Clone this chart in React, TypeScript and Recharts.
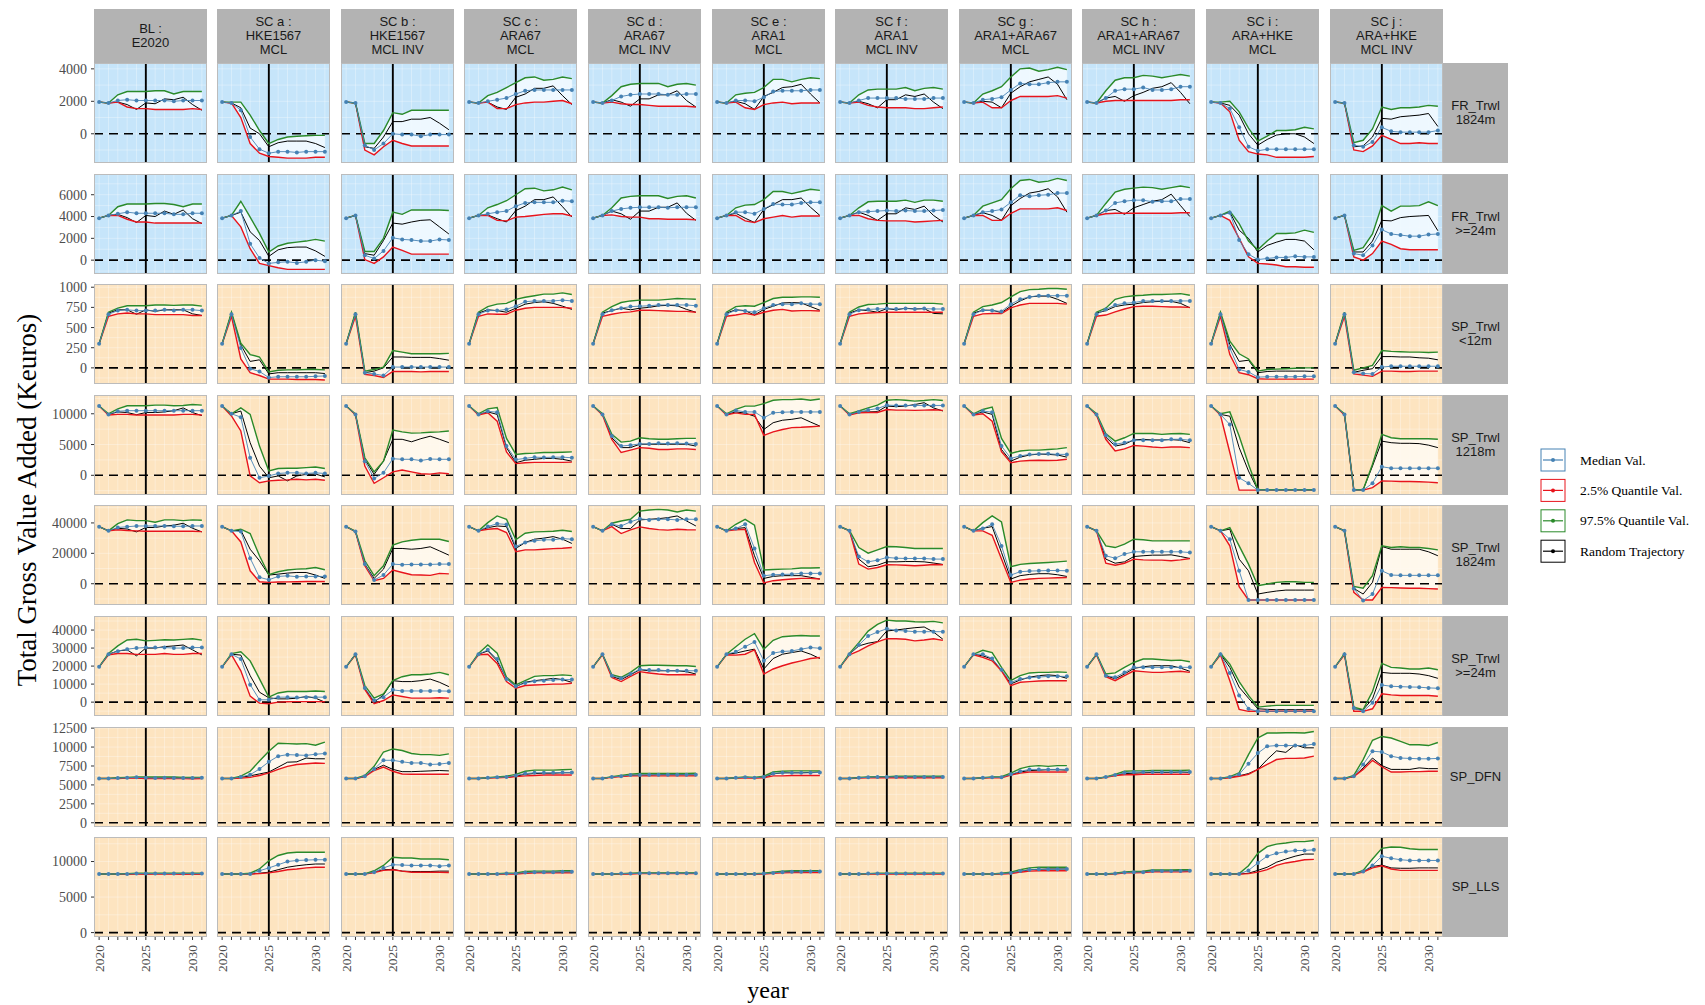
import React from "react";
import { Area, CartesianGrid, ComposedChart, Line, ReferenceLine, XAxis, YAxis } from "recharts";

const years = [2020, 2021, 2022, 2023, 2024, 2025, 2026, 2027, 2028, 2029, 2030, 2031];

const scenarios = [
  "BL :\nE2020",
  "SC a :\nHKE1567\nMCL",
  "SC b :\nHKE1567\nMCL INV",
  "SC c :\nARA67\nMCL",
  "SC d :\nARA67\nMCL INV",
  "SC e :\nARA1\nMCL",
  "SC f :\nARA1\nMCL INV",
  "SC g :\nARA1+ARA67\nMCL",
  "SC h :\nARA1+ARA67\nMCL INV",
  "SC i :\nARA+HKE\nMCL",
  "SC j :\nARA+HKE\nMCL INV",
];

const fleets = [
  "FR_Trwl\n1824m",
  "FR_Trwl\n>=24m",
  "SP_Trwl\n<12m",
  "SP_Trwl\n1218m",
  "SP_Trwl\n1824m",
  "SP_Trwl\n>=24m",
  "SP_DFN",
  "SP_LLS",
];

const yTicks = [
  [0, 2000, 4000],
  [0, 2000, 4000, 6000],
  [0, 250, 500, 750, 1000],
  [0, 5000, 10000],
  [0, 20000, 40000],
  [0, 10000, 20000, 30000, 40000],
  [0, 2500, 5000, 7500, 10000, 12500],
  [0, 5000, 10000],
];

const yDomains = [
  [-1800, 4360],
  [-1270, 7900],
  [-200, 1040],
  [-3200, 13050],
  [-14000, 51800],
  [-7700, 47800],
  [-560, 12650],
  [-620, 13450],
];

// ---- FR_Trwl 1824m ----
const fr1824Med = [
  [1950,1900,2050,2100,2050,2050,2050,2050,2000,2050,2050,2050],
  [1950,1900,1450,-200,-950,-1200,-1100,-1100,-1150,-1100,-1100,-1100],
  [1950,1900,-700,-1000,-600,0,-50,-50,-150,-50,-50,-50],
  [1950,1900,2000,2100,2200,2450,2650,2700,2700,2700,2700,2700],
  [1950,1900,2050,2300,2400,2450,2450,2450,2400,2400,2450,2450],
  [1950,1900,2050,2050,2000,2250,2600,2650,2650,2650,2700,2700],
  [1950,1900,2050,2200,2200,2200,2200,2150,2150,2150,2200,2200],
  [1950,1900,2100,2150,2250,2700,3100,3050,3050,3150,3200,3200],
  [1950,1900,2200,2650,2750,2750,2850,2700,2700,2750,2900,2900],
  [1950,1900,1550,400,-800,-1050,-950,-950,-950,-950,-950,-950],
  [1950,1900,-700,-800,-500,400,150,100,100,100,100,200],
];
const fr1824Lo = [
  [1950,1900,1950,1650,1550,1550,1500,1500,1500,1500,1550,1500],
  [1950,1900,1000,-600,-1200,-1400,-1450,-1500,-1500,-1500,-1450,-1450],
  [1950,1900,-1000,-1300,-800,-400,-600,-750,-750,-750,-750,-750],
  [1950,1900,1950,1550,1550,1800,1900,1950,1950,2000,2050,1850],
  [1950,1900,1950,1850,1800,1800,1750,1700,1700,1700,1700,1650],
  [1950,1900,1950,1600,1500,1800,1900,1950,1850,1900,1900,1900],
  [1950,1900,1950,1750,1650,1600,1600,1600,1550,1550,1600,1650],
  [1950,1900,1950,1600,1600,2050,2300,2300,2300,2300,2350,2200],
  [1950,1900,2000,2050,2050,2050,2050,2050,2050,2050,2100,2100],
  [1950,1900,1350,-400,-1100,-1250,-1300,-1450,-1450,-1450,-1450,-1400],
  [1950,1900,-1000,-1100,-750,-100,-350,-600,-600,-550,-600,-600],
];
const fr1824Hi = [
  [1950,1900,2400,2600,2600,2600,2650,2650,2450,2600,2600,2600],
  [1950,1950,1950,1150,200,-600,-350,-200,-150,-120,-100,-100],
  [1950,1900,-600,-600,200,1300,1200,1450,1450,1450,1450,1450],
  [1950,1900,2350,2550,2850,3150,3450,3500,3300,3350,3500,3400],
  [1950,1900,2350,2900,3050,3100,3100,3100,2900,3050,3100,3000],
  [1950,1900,2400,2500,2550,2850,3350,3350,3200,3350,3450,3400],
  [1950,1900,2400,2700,2750,2750,2750,2850,2650,2800,2850,2750],
  [1950,1900,2450,2650,2900,3500,4000,4050,3850,3950,4100,3950],
  [1950,1900,2650,3300,3450,3450,3600,3550,3450,3550,3650,3550],
  [1950,1950,2000,1350,350,-450,-150,200,200,250,400,300],
  [1950,1900,-550,-400,300,1650,1500,1600,1600,1650,1750,1700],
];
const fr1824Rnd = [
  [1950,1900,1950,1800,1500,1900,1850,2150,2100,2250,1800,1450],
  [1950,1900,1600,350,0,-800,-550,-450,-450,-450,-600,-850],
  [1950,1900,-800,-900,-200,750,750,900,900,1000,650,250],
  [1950,1900,1950,1650,1500,2250,2450,2800,2800,2950,2350,1800],
  [1950,1900,2100,1950,1700,2150,2150,2400,2400,2650,2050,1650],
  [1950,1900,2000,1850,1500,2300,2550,2850,2900,3050,2450,1900],
  [1950,1900,2000,1850,1600,2100,2100,2400,2300,2450,1950,1550],
  [1950,1900,2000,1950,1600,2500,2900,3200,3350,3500,3050,2100],
  [1950,1900,2200,2300,2000,2350,2550,2800,2900,3150,2550,1850],
  [1950,1900,1750,1150,0,-700,-350,-80,0,0,-200,-600],
  [1950,1900,-800,-750,-200,950,900,1050,1100,1150,1250,450],
];

// ---- FR_Trwl >=24m ----
const fr24Med = [
  [3850,4100,4250,4400,4300,4300,4300,4300,4200,4200,4300,4300],
  [3850,4100,4500,1500,200,-300,-200,-150,-250,-150,0,-100],
  [3850,4100,450,150,850,2050,1900,1850,1750,1750,1900,1850],
  [3850,4100,4250,4400,4500,4950,5250,5300,5300,5300,5450,5400],
  [3850,4100,4500,4700,4800,4850,4850,4850,4800,4850,4850,4850],
  [3850,4100,4400,4400,4250,4700,5150,5100,5100,5250,5300,5300],
  [3850,4100,4400,4450,4500,4550,4500,4550,4500,4500,4550,4600],
  [3850,4100,4400,4500,4650,5300,5950,5850,5950,6000,6150,6150],
  [3850,4100,4550,5250,5400,5500,5500,5350,5400,5400,5600,5600],
  [3850,4100,4350,1850,550,50,150,250,250,350,300,300],
  [3850,4100,600,450,1350,2800,2400,2300,2200,2200,2350,2400],
];
const fr24Lo = [
  [3850,4100,4100,3750,3500,3500,3400,3400,3400,3400,3400,3400],
  [3850,4100,3050,1050,-300,-500,-700,-850,-850,-850,-850,-850],
  [3850,4100,50,-300,300,1200,900,550,550,550,550,550],
  [3850,4100,4100,3650,3600,3950,4000,4100,4200,4250,4250,4050],
  [3850,4100,4150,4000,3950,3950,3800,3800,3750,3750,3750,3700],
  [3850,4100,4100,3600,3450,3800,3950,4100,3950,4050,4050,4050],
  [3850,4100,4100,3800,3650,3600,3600,3600,3500,3550,3600,3650],
  [3850,4100,4100,3650,3650,4300,4700,4700,4700,4700,4800,4550],
  [3850,4100,4250,4300,4300,4300,4300,4300,4300,4300,4350,4350],
  [3850,4100,3650,2000,300,-300,-350,-450,-600,-600,-650,-650],
  [3850,4100,300,0,600,1750,1450,1050,950,950,950,950],
];
const fr24Hi = [
  [3850,4100,4900,5150,5150,5150,5200,5200,5100,4900,5150,5150],
  [3850,4100,5400,3950,2450,750,1300,1550,1650,1750,1900,1750],
  [3850,4100,800,800,2000,4400,4200,4600,4600,4600,4600,4550],
  [3850,4100,4800,5100,5450,6000,6550,6600,6350,6450,6700,6450],
  [3850,4100,4800,5700,5850,5900,5900,5900,5650,5850,5900,5700],
  [3850,4100,4800,5050,5100,5550,6300,6300,6100,6300,6500,6400],
  [3850,4100,4800,5350,5400,5400,5400,5500,5300,5500,5500,5400],
  [3850,4100,4950,5250,5550,6550,7300,7400,7150,7250,7500,7300],
  [3850,4100,5200,6250,6500,6600,6700,6650,6500,6650,6800,6650],
  [3850,4100,4500,3350,1750,950,1750,2450,2450,2500,2750,2550],
  [3850,4100,900,1150,2400,5000,4500,4950,4950,5000,5350,5000],
];
const fr24Rnd = [
  [3850,4100,4200,3900,3450,4100,4000,4500,4200,4600,3800,3350],
  [3850,4100,4400,2600,1800,350,950,1150,1200,1200,850,350],
  [3850,4100,600,450,1800,3400,3300,3500,3650,3700,3050,2400],
  [3850,4100,4150,3800,3500,4550,4950,5550,5550,5800,4900,3950],
  [3850,4100,4500,4250,3750,4500,4500,4850,4850,5250,4300,3650],
  [3850,4100,4300,3850,3450,4650,5100,5550,5550,5700,4850,4100],
  [3850,4100,4400,4100,3650,4250,4250,4800,4650,4950,4100,3500],
  [3850,4100,4350,4100,3650,5000,5650,6150,6300,6550,5800,4400],
  [3850,4100,4550,4650,4200,4800,5100,5400,5550,6050,5000,4000],
  [3850,4100,4400,2750,2000,750,1350,1650,1900,1900,1750,950],
  [3850,4100,750,750,1750,3650,3600,3900,4000,4050,4100,2700],
];

// ---- SP_Trwl <12m ----
const sp12Med = [
  [300,665,710,720,710,710,710,720,710,720,720,710],
  [300,665,245,-10,-45,-120,-110,-110,-110,-110,-105,-100],
  [300,665,-60,-75,-95,10,10,10,10,10,10,10],
  [300,665,710,710,725,765,820,830,830,830,840,830],
  [300,665,715,740,760,765,770,780,780,780,780,770],
  [300,665,715,705,690,740,780,790,790,800,790,790],
  [300,665,715,725,730,735,730,735,730,735,730,730],
  [300,665,715,710,700,790,850,880,895,895,895,895],
  [300,665,725,780,800,810,830,830,830,830,830,830],
  [300,665,245,-20,-50,-115,-110,-110,-110,-110,-105,-105],
  [300,665,-55,-70,-75,10,20,20,20,20,20,20],
];
const sp12Lo = [
  [300,640,670,680,670,670,660,660,660,660,650,650],
  [300,640,110,-60,-95,-140,-140,-140,-145,-145,-145,-150],
  [300,640,-80,-95,-120,-45,-45,-45,-50,-45,-45,-45],
  [300,640,670,665,665,715,740,750,750,750,750,740],
  [300,640,665,685,695,715,715,710,705,700,700,690],
  [300,640,655,675,655,690,715,725,705,710,710,705],
  [300,640,670,680,685,690,690,690,690,690,690,690],
  [300,640,670,675,675,745,780,800,800,800,800,790],
  [300,640,655,695,730,760,765,765,760,755,755,750],
  [300,640,165,-60,-85,-135,-140,-140,-140,-140,-140,-140],
  [300,640,-75,-90,-105,-40,-40,-45,-45,-40,-40,-40],
];
const sp12Hi = [
  [300,690,740,770,770,770,780,780,775,780,780,765],
  [300,690,305,165,135,-50,-30,-25,-25,-20,-20,-25],
  [300,690,-40,-20,10,215,195,175,175,175,175,180],
  [300,690,760,790,800,850,875,895,915,915,930,910],
  [300,690,760,810,830,840,840,840,850,860,855,850],
  [300,690,760,770,765,810,860,875,875,880,880,875],
  [300,690,755,785,790,800,800,800,800,800,800,790],
  [300,690,760,780,810,880,945,970,975,985,985,975],
  [300,690,740,850,880,895,900,910,910,915,920,900],
  [300,690,330,175,110,-40,-20,-15,-10,-5,0,0],
  [300,690,-30,0,30,215,205,200,195,195,190,195],
];
const sp12Rnd = [
  [300,680,720,720,665,720,700,720,720,720,670,650],
  [300,680,285,80,100,-75,-60,-60,-60,-60,-60,-70],
  [300,680,-60,-40,0,135,135,130,130,130,115,95],
  [300,680,720,710,690,740,790,810,820,800,765,725],
  [300,680,710,740,720,740,750,770,775,770,725,690],
  [300,680,720,710,655,725,765,805,810,805,760,715],
  [300,680,720,710,690,735,720,740,730,735,675,670],
  [300,680,715,715,685,765,830,880,890,890,850,800],
  [300,680,710,760,780,790,810,820,825,825,800,745],
  [300,680,290,80,95,-60,-45,-40,-40,-40,-40,-45],
  [300,680,-55,-30,-10,140,140,135,135,125,120,100],
];

// ---- SP_Trwl 1218m ----
const sp1218Med = [
  [11250,9900,10400,10500,10500,10500,10500,10500,10500,10500,10500,10500],
  [11250,10000,9450,2850,-400,-100,300,400,400,300,400,300],
  [11250,9900,2300,-500,400,2700,2600,2600,2400,2650,2600,2600],
  [11250,9900,10400,10250,4750,2550,2750,2950,2900,2950,2950,2850],
  [11250,9900,6400,4750,4900,5100,5100,5200,5150,5200,5150,5100],
  [11250,9900,10550,10300,10300,9350,10150,10250,10300,10300,10300,10300],
  [11250,9900,10300,10600,10850,11400,11350,11350,11350,11350,11350,11350],
  [11250,9900,10450,10250,4750,2750,3150,3400,3450,3500,3400,3400],
  [11250,9900,6500,5050,5300,5700,5700,5700,5700,5850,5850,5700],
  [11250,9900,8250,-400,-1300,-2400,-2400,-2400,-2400,-2400,-2400,-2400],
  [11250,9900,-2400,-2400,-1300,1400,1150,1150,1150,1150,1150,1150],
];
const sp1218Lo = [
  [11250,9800,9900,9900,9800,9800,9800,9800,9800,9900,9900,9800],
  [11250,9650,7200,-100,-1200,-900,-800,-750,-650,-750,-650,-800],
  [11250,9850,1500,-1300,-400,550,850,550,250,200,400,250],
  [11250,9800,10150,8800,3800,1900,2050,2100,2100,2100,2100,2150],
  [11250,9800,5850,3700,4100,4500,4400,4200,4200,4300,4300,4200],
  [11250,9800,10150,9900,9900,6500,7050,7450,7750,7800,7900,8000],
  [11250,9800,10150,10200,10200,10700,10600,10600,10550,10600,10650,10550],
  [11250,9800,10000,8800,3850,2050,2300,2400,2450,2400,2450,2600],
  [11250,9800,5850,3950,4300,4850,4750,4600,4500,4600,4600,4500],
  [11250,9800,3700,-2400,-2400,-2400,-2400,-2400,-2400,-2400,-2400,-2400],
  [11250,9800,-2400,-2400,-2000,-900,-950,-1000,-1000,-1050,-1100,-1200],
];
const sp1218Hi = [
  [11250,10000,10800,11300,11300,11300,11400,11400,11300,11350,11500,11400],
  [11250,10000,10950,9900,4750,700,1100,1150,1150,1250,1350,1100],
  [11250,9950,2850,550,2300,7350,7050,6850,6900,7000,7050,7200],
  [11250,10000,10800,11000,6000,3400,3550,3600,3700,3700,3750,3800],
  [11250,10000,6650,5400,5550,6100,5950,5850,5850,5950,6000,6000],
  [11250,10000,10700,11250,11250,11650,12200,12300,12300,12400,12200,12400],
  [11250,10000,10450,10950,11400,12200,12300,12200,12050,12150,12300,12150],
  [11250,10000,10700,11100,6000,3550,3950,4100,4100,4200,4300,4500],
  [11250,10000,6750,5550,6100,6800,6800,6800,6650,6750,6800,6650],
  [11250,10000,10300,6400,1800,-2350,-2350,-2350,-2350,-2350,-2350,-2350],
  [11250,10000,-2350,-2350,1800,6650,6100,5950,5950,5950,5950,5850],
];
const sp1218Rnd = [
  [11250,9900,10300,10200,9850,10200,10200,10300,10500,10950,10200,9700],
  [11250,10000,10450,5300,1500,-400,-100,-900,-100,150,200,-250],
  [11250,9900,2600,150,2300,5850,5850,5450,5950,6350,5850,5300],
  [11250,9900,10300,9900,4500,2050,2450,2600,2750,2750,2600,2300],
  [11250,9900,6100,4500,4500,5050,5050,5050,5050,5050,5050,4750],
  [11250,9900,10300,10100,9600,7450,8550,8950,9100,9350,8650,8000],
  [11250,9900,10300,10300,10350,11250,11150,11250,11500,11800,10950,10450],
  [11250,9900,10300,9900,4200,2300,2950,3300,3450,3400,3300,2950],
  [11250,9900,6200,4750,5050,5750,5850,5750,5750,5800,5700,5300],
  [11250,9900,9600,4500,700,-2380,-2380,-2380,-2380,-2380,-2380,-2380],
  [11250,9900,-2350,-2350,1500,5550,5300,5200,5200,5150,4900,4500],
];

// ---- SP_Trwl 1824m ----
const sp1824Med = [
  [37500,34800,37000,37500,38000,38000,38000,38000,37800,37800,38000,38000],
  [37500,34800,34300,16800,4200,2600,4800,5200,4600,4800,4800,4800],
  [37500,34300,12900,2400,5700,12900,12500,12700,12700,12700,12900,12900],
  [37500,34800,37600,39500,39000,24500,27100,28200,28900,28900,29700,29300],
  [37500,34800,39100,38000,40700,42800,42000,42400,42400,42000,42400,42400],
  [37500,34800,36300,39100,23200,5250,5900,6100,6300,6800,6800,6800],
  [37500,34800,17900,14400,15500,17300,16800,16600,16600,16600,16200,16200],
  [37500,34800,36300,39100,24900,5700,7900,8300,8500,8700,8700,8500],
  [37500,34800,18400,16800,19500,21000,21000,21000,21000,21000,21000,20500],
  [37500,34800,29300,8500,-10700,-10700,-10700,-10700,-10700,-10700,-10700,-10700],
  [37500,34800,-3100,-11100,-6800,8500,5700,5500,5500,5500,5500,5500],
];
const sp1824Lo = [
  [37500,34800,35500,35000,34800,34500,34500,34500,34500,34500,34500,34300],
  [37500,34800,27500,8500,1300,900,1100,1200,1300,1500,1500,1500],
  [37500,34300,11800,2000,3500,9000,7400,5900,5700,5500,6800,6500],
  [37500,34800,35800,36300,33700,21000,22300,22300,22700,23100,23300,23800],
  [37500,34800,37600,33000,35400,37400,36300,35600,35300,35800,35500,35400],
  [37500,34800,35400,35800,14000,450,2000,2600,3100,3500,3500,3100],
  [37500,34800,12900,9600,10700,12500,12400,12200,11800,12200,12600,12500],
  [37500,34800,34800,31900,16200,850,2400,3100,3500,3700,3900,4100],
  [37500,34800,13500,12200,13500,16200,15700,15500,15500,15100,15700,16600],
  [37500,34800,24900,-2000,-10700,-10700,-10700,-10700,-10700,-10700,-10700,-10700],
  [37500,34800,-5700,-10700,-10700,-2400,-2600,-2800,-3000,-3000,-3200,-3500],
];
const sp1824Hi = [
  [37500,34800,39500,42000,41500,41500,40500,42000,42000,41500,42000,41800],
  [37500,34800,35900,33000,18400,5900,7900,9000,9600,9900,10700,9200],
  [37500,34500,15100,5300,11800,25400,27500,28600,29300,29300,29300,27800],
  [37500,34800,40200,44600,42400,28900,33200,34100,34300,34500,35200,34400],
  [37500,34800,39800,41300,42400,47800,48500,48900,48500,47200,48500,47800],
  [37500,34800,39100,42400,38500,9000,9400,9600,9800,10300,10300,10500],
  [37500,35000,23800,20100,22300,24500,24300,23800,23200,23200,23200,23200],
  [37500,34800,40200,44600,40600,11200,12700,13300,13600,14000,14400,14900],
  [37500,34800,24900,23800,26000,29300,28900,28200,28200,28200,28200,28200],
  [37500,34800,36900,24900,12900,-1300,-200,900,1300,1300,900,900],
  [37500,34800,-1750,-3000,5250,24900,23800,24300,23800,23800,23200,22300],
];
const sp1824Rnd = [
  [37500,34800,36500,36000,34100,37000,37000,38000,38500,39800,36500,34100],
  [37500,34800,35200,22700,15100,5700,6300,7000,7400,7400,5700,3500],
  [37500,34300,13000,3500,9600,23200,23200,22700,23200,24300,21600,18800],
  [37500,34800,36900,38000,37600,23200,27100,29300,30000,31000,29300,26500],
  [37500,34800,39100,36300,36300,42000,42400,42800,43500,44600,41300,38000],
  [37500,34800,36300,36900,18400,3500,4800,5300,5300,5300,4200,3100],
  [37500,34800,16200,11200,12200,14400,14400,14600,14600,14400,13600,12700],
  [37500,34800,36500,37600,20600,3100,5300,6100,6600,6600,5900,4800],
  [37500,34800,16200,13500,14400,17900,18400,18800,18800,19000,17900,16600],
  [37500,34800,35900,16200,8500,-6800,-5700,-4800,-4200,-4200,-4200,-4200],
  [37500,34800,-3100,-6800,900,24500,22700,22700,22700,22700,21000,18400],
];

// ---- SP_Trwl >=24m ----
const sp24Med = [
  [19600,26600,28300,29400,30000,30300,30300,30300,30000,30000,30300,30300],
  [19600,26600,23900,9700,1300,1300,2750,2750,2600,2750,2750,2750],
  [19600,26600,7900,900,2750,6800,6200,6200,6200,6200,6200,6100],
  [19600,26600,29000,23900,12800,8800,10600,11600,11900,12300,12500,12500],
  [19600,26600,14700,13200,15600,18300,17800,17800,17400,17400,17400,17400],
  [19600,26600,27900,30800,33400,22900,27200,28100,28400,29400,30300,29900],
  [19600,26600,31700,36700,38900,40700,39800,39500,39100,39100,39100,39100],
  [19600,26600,26600,24200,18000,11000,12800,13600,13900,14300,14300,14300],
  [19600,26600,14700,13800,16500,19300,19300,19300,19300,19300,19300,19300],
  [19600,26600,16100,3700,-3700,-5100,-5100,-5100,-5100,-5100,-5100,-5100],
  [19600,26600,-3300,-5100,-400,9500,8800,8600,8400,8300,7900,7700],
];
const sp24Lo = [
  [19600,26300,27000,27000,26500,26500,26500,27000,26500,26500,27000,27000],
  [19600,26300,17400,3300,-550,-900,0,200,300,300,300,200],
  [19600,26300,7000,-900,900,4000,3100,2200,2200,2200,2400,2200],
  [19600,26300,26600,21500,11400,7700,9200,9500,9700,10000,10000,10500],
  [19600,26300,13700,11400,14300,16900,16200,15600,15200,15200,15300,15100],
  [19600,26300,26100,26600,29000,15600,18400,20200,21700,22900,24200,24800],
  [19600,26300,28400,31200,33400,35200,35200,34900,34000,34500,35200,34300],
  [19600,26300,24800,22900,17400,9200,11000,11400,11700,11900,11900,11900],
  [19600,26300,14100,11900,14700,17400,16900,16500,16500,16900,17100,16500],
  [19600,26300,11900,-4000,-5100,-5100,-5100,-5100,-5100,-5100,-5100,-5100],
  [19600,26300,-5100,-5100,-3700,4600,4000,3700,3700,3700,3700,3300],
];
const sp24Hi = [
  [19600,27000,31200,34500,34900,34000,34300,34600,34500,34800,35200,34400],
  [19600,26900,27900,22900,12900,2750,5100,5900,5900,5900,6200,5900],
  [19600,26600,9200,2200,4600,11900,14100,15200,15200,15600,16500,15200],
  [19600,27000,31700,27200,13800,9500,11900,14300,14700,14700,15100,14700],
  [19600,26600,15200,13800,16500,20200,20500,20500,20300,20200,20200,19800],
  [19600,26600,30700,34900,38000,29400,34300,36300,36700,37000,36700,36700],
  [19600,27000,33000,39400,43100,45500,45000,45000,44600,44500,44800,44000],
  [19600,26600,28800,27500,19300,11900,14700,16200,16500,16500,16800,16500],
  [19600,26600,15600,16200,19300,22000,23900,23900,23500,23100,23300,22400],
  [19600,27000,21100,11400,3700,-2750,-2200,-1800,-1800,-1800,-1800,-1800],
  [19600,27000,-2750,-4200,5900,21500,19300,18900,18400,18400,18900,18000],
];
const sp24Rnd = [
  [19600,26600,28400,29000,25700,30000,30000,30800,31200,31700,29000,26200],
  [19600,26600,26100,14700,5500,2400,1800,1800,2200,3100,2200,0],
  [19600,26600,7700,0,4000,11900,11400,11400,11900,12800,11000,8600],
  [19600,26600,28400,22900,13200,8600,11000,11900,12500,13200,12500,11000],
  [19600,26600,14300,12500,15200,18000,17400,17400,17400,17400,16900,15600],
  [19600,26600,27200,28400,29400,18400,24200,26600,27500,28400,26600,24200],
  [19600,26600,31200,32700,33600,39500,40000,40700,41300,41700,38900,34900],
  [19600,26600,25700,23900,17400,10100,12300,13800,14700,15100,14700,13200],
  [19600,26600,14700,12900,15600,18700,19600,20200,20200,20200,18900,17100],
  [19600,26600,19300,8300,2200,-3700,-4000,-4200,-4200,-4200,-4200,-4200],
  [19600,26600,-3700,-4200,1800,16500,16000,16000,16000,15600,14700,13200],
];

// ---- SP_DFN ----
const dfnMed = [
  [5850,5850,5900,5950,6000,5950,5900,5950,5900,5900,5900,5950],
  [5850,5850,6050,6350,7100,8050,8800,9000,8950,8900,9050,9150],
  [5850,5850,6150,7100,8250,8250,8050,7900,7900,7700,7750,7900],
  [5850,5850,5950,6000,6050,6250,6500,6600,6600,6600,6650,6650],
  [5850,5850,6050,6150,6300,6300,6350,6350,6350,6350,6350,6350],
  [5850,5850,5950,6000,5950,6050,6500,6600,6600,6600,6600,6650],
  [5850,5850,5950,6000,6050,6050,6050,6050,6050,6050,6050,6050],
  [5850,5850,5950,6000,6000,6400,6800,7050,7050,7050,7050,7050],
  [5850,5850,6050,6300,6600,6700,6700,6700,6700,6700,6700,6700],
  [5850,5850,6050,6400,7800,9200,10100,10200,10200,10200,10200,10400],
  [5850,5850,6150,7700,9450,9350,8800,8550,8500,8450,8450,8500],
];
const dfnLo = [
  [5850,5850,5850,5900,5900,5850,5850,5850,5850,5850,5800,5850],
  [5850,5850,5900,6000,6250,6600,7050,7450,7700,7800,7900,7850],
  [5850,5850,6100,6900,7350,6800,6450,6400,6400,6400,6400,6400],
  [5850,5850,5900,5950,6000,6100,6200,6250,6300,6300,6300,6300],
  [5850,5850,6000,6100,6200,6200,6200,6200,6200,6200,6200,6200],
  [5850,5850,5900,5950,5900,5950,6200,6200,6250,6250,6250,6250],
  [5850,5850,5900,5950,5950,5950,5950,5950,5950,5950,5950,5950],
  [5850,5850,5900,5950,5950,6300,6550,6700,6700,6700,6700,6700],
  [5850,5850,6000,6250,6350,6350,6400,6400,6400,6400,6400,6400],
  [5850,5850,5950,6150,6400,7050,7700,8350,8500,8500,8550,8800],
  [5850,5850,6100,7050,8250,7400,6700,6700,6750,6750,6800,6800],
];
const dfnHi = [
  [5850,5850,5950,6000,6050,6050,6050,6050,6050,6000,6000,6000],
  [5850,5850,6150,6800,8150,9450,10500,10450,10400,10450,10250,10650],
  [5850,5850,6250,7450,9350,9750,9550,9150,9000,9000,8900,9100],
  [5850,5850,5950,6050,6150,6400,6800,6950,6950,6950,7000,7050],
  [5850,5850,6100,6250,6400,6500,6500,6500,6500,6500,6500,6550],
  [5850,5850,5950,6050,6000,6150,6700,6800,6850,6850,6850,6850],
  [5850,5850,6000,6050,6100,6100,6150,6150,6150,6150,6150,6150],
  [5850,5850,5950,6050,6100,6550,7150,7450,7550,7450,7550,7550],
  [5850,5850,6050,6400,6800,6850,6850,6900,6900,6900,6900,6950],
  [5850,5850,6100,6600,9000,11200,11850,11850,11900,11900,11850,12050],
  [5850,5850,6250,8350,10900,11400,11200,10750,10300,10300,10200,10600],
];
const dfnRnd = [
  [5850,5850,5900,5950,5950,5950,5900,5950,5950,5900,5850,5900],
  [5850,5850,6000,6200,6450,6700,7350,8000,8050,8550,8450,8450],
  [5850,5850,6100,7050,7600,7050,6750,6750,6800,6850,6900,6850],
  [5850,5850,5950,6000,6000,6150,6400,6500,6550,6550,6600,6600],
  [5850,5850,6050,6150,6250,6300,6300,6350,6350,6350,6350,6300],
  [5850,5850,5950,6000,5950,6000,6450,6600,6600,6600,6650,6700],
  [5850,5850,5950,6000,6000,6050,6050,6050,6050,6050,6050,6050],
  [5850,5850,5950,6000,6000,6350,6700,6900,6950,7000,7000,6950],
  [5850,5850,6050,6250,6500,6550,6600,6650,6650,6650,6700,6650],
  [5850,5850,6000,6200,6500,7050,8350,9500,9300,10300,9900,9900],
  [5850,5850,6100,7250,8550,7550,7050,7050,7050,7250,7150,7150],
];

// ---- SP_LLS ----
const llsMed = [
  [8250,8250,8250,8250,8300,8300,8300,8300,8300,8300,8300,8300],
  [8250,8250,8250,8250,8700,9100,9550,10000,10150,10200,10250,10250],
  [8250,8250,8250,8500,9100,9550,9500,9450,9450,9450,9350,9450],
  [8250,8250,8250,8250,8300,8300,8450,8500,8500,8500,8550,8550],
  [8250,8250,8250,8300,8300,8350,8350,8350,8350,8350,8350,8350],
  [8250,8250,8250,8250,8250,8300,8400,8500,8550,8550,8600,8600],
  [8250,8250,8250,8300,8300,8300,8300,8300,8300,8300,8300,8300],
  [8250,8250,8250,8250,8300,8400,8650,8850,8900,8900,8900,8950],
  [8250,8250,8250,8300,8450,8500,8500,8650,8650,8650,8650,8700],
  [8250,8250,8250,8250,8750,9800,10750,11150,11400,11550,11550,11650],
  [8250,8250,8250,8600,9450,10750,10450,10250,10150,10150,10150,10150],
];
const llsLo = [
  [8250,8250,8200,8200,8250,8250,8250,8250,8250,8200,8250,8250],
  [8250,8250,8250,8250,8300,8400,8600,8850,8950,9100,9200,9200],
  [8250,8250,8250,8450,8750,8850,8650,8500,8500,8500,8500,8450],
  [8250,8250,8250,8250,8250,8250,8350,8400,8400,8400,8400,8400],
  [8250,8250,8250,8250,8250,8300,8300,8300,8300,8300,8300,8300],
  [8250,8250,8250,8250,8250,8250,8350,8400,8450,8450,8450,8450],
  [8250,8250,8250,8250,8250,8250,8250,8250,8250,8250,8250,8250],
  [8250,8250,8250,8250,8250,8300,8500,8650,8700,8700,8700,8700],
  [8250,8250,8250,8250,8400,8400,8450,8550,8550,8550,8550,8600],
  [8250,8250,8250,8250,8300,8500,8850,9450,9800,10000,10250,10300],
  [8250,8250,8250,8500,9100,9400,8950,8750,8750,8750,8750,8750],
];
const llsHi = [
  [8250,8250,8250,8300,8350,8350,8350,8350,8350,8350,8350,8350],
  [8250,8250,8250,8350,8950,10100,10850,11200,11300,11300,11300,11300],
  [8250,8250,8250,8700,9450,10600,10500,10500,10350,10350,10350,10250],
  [8250,8250,8250,8300,8350,8400,8600,8650,8650,8650,8700,8700],
  [8250,8250,8250,8300,8350,8400,8400,8400,8400,8400,8400,8400],
  [8250,8250,8250,8250,8300,8350,8500,8650,8700,8700,8700,8700],
  [8250,8250,8250,8300,8350,8350,8350,8350,8350,8350,8350,8350],
  [8250,8250,8250,8250,8350,8500,8850,9100,9200,9200,9200,9200],
  [8250,8250,8250,8350,8550,8600,8650,8800,8800,8800,8850,8850],
  [8250,8250,8250,8300,9400,11150,12100,12450,12600,12800,12800,12950],
  [8250,8250,8250,8750,10350,11850,12050,12000,11800,11700,11700,11700],
];
const llsRnd = [
  [8250,8250,8250,8250,8300,8250,8300,8300,8300,8300,8250,8250],
  [8250,8250,8250,8250,8350,8500,8850,9200,9400,9550,9650,9650],
  [8250,8250,8250,8500,8850,8900,8650,8600,8600,8600,8650,8650],
  [8250,8250,8250,8250,8300,8300,8400,8450,8500,8500,8500,8550],
  [8250,8250,8250,8300,8300,8350,8350,8350,8350,8350,8350,8350],
  [8250,8250,8250,8250,8250,8300,8400,8550,8600,8600,8650,8650],
  [8250,8250,8250,8300,8300,8300,8300,8300,8300,8300,8300,8300],
  [8250,8250,8250,8250,8300,8400,8600,8850,8900,8950,8950,8950],
  [8250,8250,8250,8300,8450,8500,8550,8650,8650,8700,8700,8700],
  [8250,8250,8250,8250,8350,8750,9200,9900,10350,10750,11050,11050],
  [8250,8250,8250,8600,9300,9500,9100,9050,9050,9100,9100,9100],
];

const medRows = [fr1824Med, fr24Med, sp12Med, sp1218Med, sp1824Med, sp24Med, dfnMed, llsMed];
const loRows = [fr1824Lo, fr24Lo, sp12Lo, sp1218Lo, sp1824Lo, sp24Lo, dfnLo, llsLo];
const hiRows = [fr1824Hi, fr24Hi, sp12Hi, sp1218Hi, sp1824Hi, sp24Hi, dfnHi, llsHi];
const rndRows = [fr1824Rnd, fr24Rnd, sp12Rnd, sp1218Rnd, sp1824Rnd, sp24Rnd, dfnRnd, llsRnd];

const legendItems = [
  { label: "Median Val.", color: "#4682b4" },
  { label: "2.5% Quantile Val.", color: "#e8141c" },
  { label: "97.5% Quantile Val.", color: "#2a8a2a" },
  { label: "Random Trajectory", color: "#000000" },
];

const SERIF = "'Liberation Serif', 'Times New Roman', serif";
const SANS = "'Liberation Sans', Arial, sans-serif";

const PANEL_W = 113;
const PANEL_H = 100;
const COL_X0 = 93.5;
const COL_STEP = 123.6;
const ROW_Y0 = 63;
const ROW_STEP = 110.6;
const YW = 56;
const XH = 44;
const PAD = 9;

function gridValues(r: number) {
  const t = yTicks[r];
  const half = (t[1] - t[0]) / 2;
  const [lo, hi] = yDomains[r];
  const out: number[] = [];
  for (let v = Math.ceil(lo / half) * half; v <= hi; v += half) out.push(v);
  return out;
}

function YearTick(props: any) {
  const { x, y, payload } = props;
  if (payload.value % 5 !== 0) return <g />;
  return (
    <text
      x={x}
      y={y + 3}
      transform={`rotate(-90 ${x} ${y + 3})`}
      textAnchor="end"
      dominantBaseline="central"
      fontFamily={SERIF}
      fontSize={13.5}
      fill="#4d4d4d"
    >
      {payload.value}
    </text>
  );
}

function Panel({ r, c }: { r: number; c: number }) {
  const data = years.map((year, k) => ({
    year,
    med: medRows[r][c][k],
    lo: loRows[r][c][k],
    hi: hiRows[r][c][k],
    rnd: rndRows[r][c][k],
    band: [loRows[r][c][k], hiRows[r][c][k]],
  }));
  const showY = c === 0;
  const showX = r === 7;
  const padT = showY ? PAD : 0;
  const padB = showY && !showX ? PAD : 0;
  const padL = showX && !showY ? PAD : 0;
  const padR = showX ? PAD : 0;
  const left = Math.round(COL_X0 + c * COL_STEP) - (showY ? YW : 0) - padL;
  const top = Math.round(ROW_Y0 + r * ROW_STEP) - padT;
  const w = PANEL_W + (showY ? YW : 0) + padL + padR;
  const h = PANEL_H + (showX ? XH : 0) + padT + padB;
  const fr = r < 2;
  const bg = fr ? "#c6e5fa" : "#fde4c0";
  const ribbon = fr ? "#f2f9ff" : "#fff9f1";

  return (
    <div style={{ position: "absolute", left, top, width: w, height: h }}>
      <ComposedChart width={w} height={h} data={data} margin={{ top: padT, right: padR, bottom: padB, left: padL }}>
        <CartesianGrid
          fill={bg}
          stroke="#ffffff"
          strokeOpacity={0.45}
          strokeWidth={0.7}
          horizontalValues={gridValues(r)}
          verticalValues={years}
        />
        <XAxis
          dataKey="year"
          type="number"
          domain={[2019.45, 2031.55]}
          ticks={years}
          interval={0}
          hide={!showX}
          height={XH}
          axisLine={false}
          tickLine={{ stroke: "#333333" }}
          tickSize={3}
          tick={<YearTick />}
          allowDataOverflow
        />
        <YAxis
          type="number"
          domain={yDomains[r]}
          ticks={yTicks[r]}
          interval={0}
          hide={!showY}
          width={YW}
          axisLine={false}
          tickLine={{ stroke: "#333333" }}
          tickSize={3}
          tickMargin={4}
          tick={{ fontFamily: SERIF, fontSize: 14, fill: "#4d4d4d" }}
          allowDataOverflow
        />
        <Area dataKey="band" type="linear" fill={ribbon} fillOpacity={0.9} stroke="none" isAnimationActive={false} />
        <ReferenceLine y={0} stroke="#000000" strokeWidth={1.6} strokeDasharray="9 6" />
        <ReferenceLine x={2025} stroke="#000000" strokeWidth={1.9} />
        <Line dataKey="rnd" type="linear" stroke="#000000" strokeWidth={1} dot={false} isAnimationActive={false} />
        <Line dataKey="lo" type="linear" stroke="#e8141c" strokeWidth={1.4} dot={false} isAnimationActive={false} />
        <Line dataKey="hi" type="linear" stroke="#2a8a2a" strokeWidth={1.4} dot={false} isAnimationActive={false} />
        <Line
          dataKey="med"
          type="linear"
          stroke="#4682b4"
          strokeWidth={0.9}
          dot={{ r: 2, fill: "#4682b4", stroke: "none" }}
          isAnimationActive={false}
        />
      </ComposedChart>
      <div
        style={{
          position: "absolute",
          left: (showY ? YW : 0) + padL,
          top: padT,
          width: PANEL_W,
          height: PANEL_H,
          border: "1px solid #bcbcbc",
          boxSizing: "border-box",
          pointerEvents: "none",
        }}
      />
    </div>
  );
}

const stripStyle: React.CSSProperties = {
  position: "absolute",
  background: "#b3b3b3",
  color: "#1a1a1a",
  fontFamily: SANS,
  fontSize: 13,
  lineHeight: "14px",
  whiteSpace: "pre-line",
  textAlign: "center",
  display: "flex",
  alignItems: "center",
  justifyContent: "center",
};

export default function App() {
  return (
    <div style={{ position: "absolute", left: 0, top: 0, width: 1705, height: 1005, background: "#ffffff", overflow: "hidden" }}>
      {scenarios.map((s, c) => (
        <div
          key={s}
          style={{ ...stripStyle, left: Math.round(COL_X0 + c * COL_STEP), top: 9, width: PANEL_W, height: ROW_Y0 - 9 }}
        >
          {s}
        </div>
      ))}
      {fleets.map((f, r) => (
        <div
          key={f}
          style={{
            ...stripStyle,
            left: Math.round(COL_X0 + 10 * COL_STEP) + PANEL_W,
            top: Math.round(ROW_Y0 + r * ROW_STEP),
            width: 65,
            height: PANEL_H,
          }}
        >
          {f}
        </div>
      ))}
      {fleets.map((f, r) => scenarios.map((s, c) => <Panel key={`${r}-${c}`} r={r} c={c} />))}

      <svg style={{ position: "absolute", left: 0, top: 0 }} width={1705} height={1005} pointerEvents="none">
        <text
          x={27}
          y={500}
          transform="rotate(-90 27 500)"
          textAnchor="middle"
          dominantBaseline="central"
          fontFamily={SERIF}
          fontSize={27}
          fill="#000000"
        >
          Total Gross Value Added (Keuros)
        </text>
        <text x={768} y={998} textAnchor="middle" fontFamily={SERIF} fontSize={24} fill="#000000">
          year
        </text>
        {legendItems.map((it, i) => {
          const cy = 460 + i * 30.4;
          return (
            <g key={it.label}>
              <rect x={1541} y={cy - 11} width={24} height={22} fill="#ffffff" stroke={it.color} strokeWidth={1} />
              <line x1={1543} x2={1563} y1={cy} y2={cy} stroke={it.color} strokeWidth={1.2} />
              <circle cx={1553} cy={cy} r={2} fill={it.color} />
              <text x={1580} y={cy} dominantBaseline="central" fontFamily={SERIF} fontSize={13.5} fill="#000000">
                {it.label}
              </text>
            </g>
          );
        })}
      </svg>
    </div>
  );
}
